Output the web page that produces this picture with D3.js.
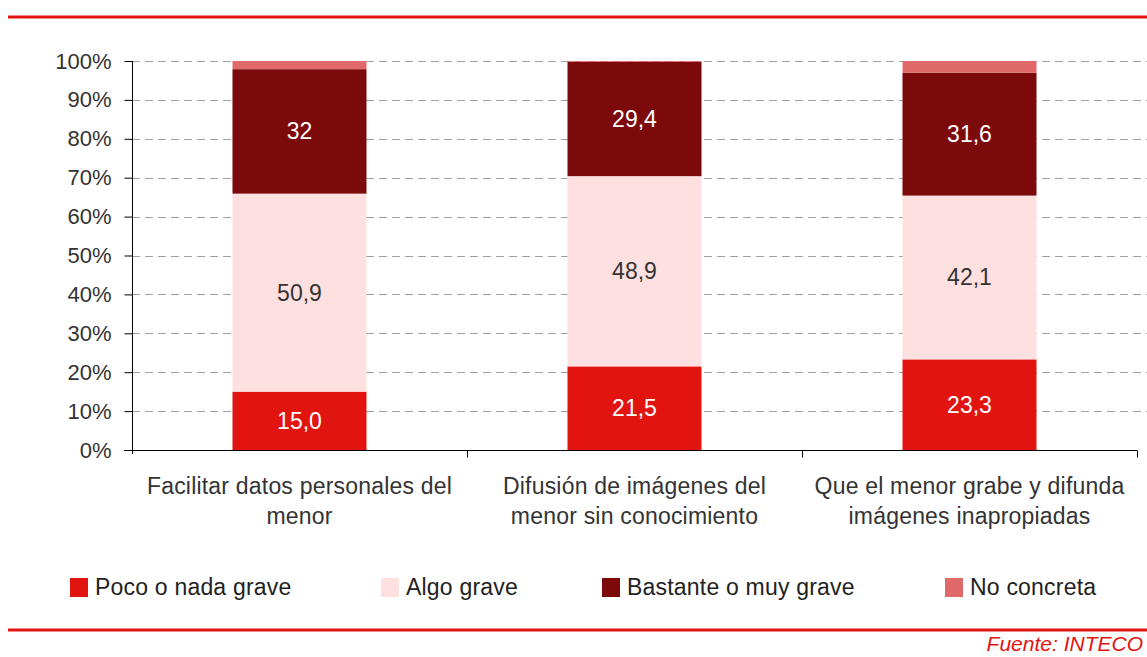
<!DOCTYPE html>
<html>
<head>
<meta charset="utf-8">
<script src="https://cdn.jsdelivr.net/npm/d3@7"></script>
<style>
  body { margin: 0; background: #fff; }
  svg { display: block; font-family: "Liberation Sans", Arial, sans-serif; }
</style>
</head>
<body>
<script>
var categories = [
  ["Facilitar datos personales del", "menor"],
  ["Difusión de imágenes del", "menor sin conocimiento"],
  ["Que el menor grabe y difunda", "imágenes inapropiadas"]
];
var seriesNames = ["Poco o nada grave", "Algo grave", "Bastante o muy grave", "No concreta"];
var poco = [15.0, 21.5, 23.3];
var algo = [50.9, 48.9, 42.1];
var bastante = [32, 29.4, 31.6];
var noConcreta = [2.1, 0.2, 3.0];
var valueLabels = [["15,0", "21,5", "23,3"], ["50,9", "48,9", "42,1"], ["32", "29,4", "31,6"], null];
var yTicks = [0, 10, 20, 30, 40, 50, 60, 70, 80, 90, 100];
var colors = ["#e2140f", "#ffe0e0", "#7c0a0a", "#e06a6a"];
var labelColors = ["#ffffff", "#333333", "#ffffff", null];

var width = 1147, height = 657;
var svg = d3.select("body").append("svg").attr("width", width).attr("height", height);

var x0 = 132, x1 = 1137, yTop = 61, yBot = 450;
var x = d3.scaleBand().domain([0, 1, 2]).range([x0, x1]).paddingInner(0.6).paddingOuter(0.3);
var y = d3.scaleLinear().domain([0, 100]).range([yBot, yTop]);

// red rules
svg.append("line").attr("x1", 8).attr("x2", width).attr("y1", 17).attr("y2", 17)
  .attr("stroke", "#e2140f").attr("stroke-width", 3);
svg.append("line").attr("x1", 8).attr("x2", width).attr("y1", 630).attr("y2", 630)
  .attr("stroke", "#e2140f").attr("stroke-width", 3);

// grid
svg.selectAll(".grid").data(yTicks.slice(1)).enter().append("line")
  .attr("x1", x0).attr("x2", width)
  .attr("y1", function(d){ return Math.round(y(d)) + 0.5; })
  .attr("y2", function(d){ return Math.round(y(d)) + 0.5; })
  .attr("stroke", "#a0a0a0").attr("stroke-dasharray", "8,5");

// stacked bars
var series = [poco, algo, bastante, noConcreta];
var stackData = [0, 1, 2].map(function(i){
  var o = {i: i};
  series.forEach(function(s, k){ o[k] = s[i]; });
  return o;
});
var stacked = d3.stack().keys([0, 1, 2, 3])(stackData);

stacked.forEach(function(layer, k){
  svg.append("g").selectAll("rect").data(layer).enter().append("rect")
    .attr("x", function(d){ return x(d.data.i); })
    .attr("width", x.bandwidth())
    .attr("y", function(d){ return y(d[1]); })
    .attr("height", function(d){ return y(d[0]) - y(d[1]); })
    .attr("fill", colors[k]);
  if (valueLabels[k]) {
    svg.append("g").selectAll("text").data(layer).enter().append("text")
      .attr("x", function(d){ return x(d.data.i) + x.bandwidth() / 2; })
      .attr("y", function(d){ return (y(d[0]) + y(d[1])) / 2 + 8; })
      .attr("text-anchor", "middle")
      .attr("font-size", 23)
      .attr("fill", labelColors[k])
      .text(function(d, i){ return valueLabels[k][i]; });
  }
});

// y axis
var yAxis = svg.append("g").attr("transform", "translate(" + (x0 + 0.5) + ",0)")
  .call(d3.axisLeft(y).tickValues(yTicks).tickSize(8).tickPadding(13)
    .tickFormat(function(d){ return d + "%"; }));
yAxis.select(".domain").attr("stroke", "#000").attr("d", "M0," + yTop + "V" + (yBot + 4));
yAxis.selectAll(".tick line").attr("stroke", "#000");
yAxis.selectAll("text").attr("font-size", 22).attr("fill", "#333").attr("font-family", "Liberation Sans, Arial, sans-serif");

// x axis
var step = (x1 - x0) / 3;
var xAxis = svg.append("g").attr("transform", "translate(0," + (yBot + 0.5) + ")");
xAxis.append("line").attr("x1", x0 - 8).attr("x2", x1).attr("stroke", "#000");
xAxis.selectAll(".xt").data([1, 2, 3]).enter().append("line")
  .attr("x1", function(d){ return Math.round(x0 + d * step) + 0.5; })
  .attr("x2", function(d){ return Math.round(x0 + d * step) + 0.5; })
  .attr("y1", 0).attr("y2", 7).attr("stroke", "#000");

// category labels
categories.forEach(function(lines, i){
  var t = svg.append("text").attr("text-anchor", "middle").attr("font-size", 23)
    .attr("letter-spacing", 0.2).attr("fill", "#333");
  lines.forEach(function(l, j){
    t.append("tspan").attr("x", x(i) + x.bandwidth() / 2).attr("y", 494 + j * 30).text(l);
  });
});

// legend
var legendX = [70, 381, 602, 945];
seriesNames.forEach(function(name, k){
  var g = svg.append("g").attr("transform", "translate(" + legendX[k] + ",578)");
  g.append("rect").attr("width", 18).attr("height", 19).attr("fill", colors[k]);
  g.append("text").attr("x", 25).attr("y", 17).attr("font-size", 23)
    .attr("letter-spacing", 0.2).attr("fill", "#222").text(name);
});

// source
svg.append("text").attr("x", 1143).attr("y", 651).attr("text-anchor", "end")
  .attr("font-size", 21).attr("font-style", "italic").attr("fill", "#e2140f").text("Fuente: INTECO");
</script>
</body>
</html>
